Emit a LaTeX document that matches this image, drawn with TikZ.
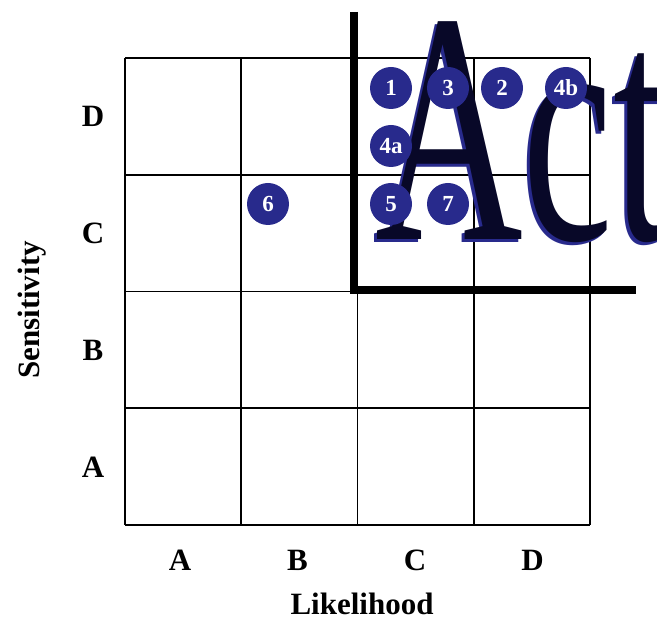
\documentclass[tikz,border=0pt]{standalone}
\usepackage{fontspec}
\setmainfont{Liberation Serif}
\usetikzlibrary{positioning}
\definecolor{riskblue}{RGB}{40,42,140}
\definecolor{actnavy}{RGB}{8,8,40}

\begin{document}
\begin{tikzpicture}[x=1pt, y=-1pt,
    risk/.style={circle, fill=riskblue, minimum size=42pt, inner sep=0pt, text=white, font=\fontsize{23}{23}\selectfont\bfseries},
    lbl/.style={font=\fontsize{31}{31}\selectfont\bfseries},
    cellline/.style={line width=1.8pt},
    bigline/.style={line width=8pt},
    acttext/.style={anchor=base west, xscale=0.62, inner sep=0pt, font=\fontsize{330}{330}\selectfont}
]
\useasboundingbox (0,0) rectangle (657,620);
\clip (0,0) rectangle (657,620);

% matrix cells
\foreach \i in {0,...,4} {
    \draw[cellline] (125+116.25*\i,58) -- (125+116.25*\i,525);
    \draw[cellline] (125,58+116.75*\i) -- (590,58+116.75*\i);
}

% action corner
\coordinate (ctop) at (354,12);
\coordinate (ccorner) at (354,290);
\coordinate (cright) at (636,290);
\draw[bigline] (ctop) -- (ccorner) -- (cright);

\node[acttext, text=riskblue] (actshadow) at (372,243) {Act};
\node[acttext, text=actnavy] (act) at (375,240) {Act};

% risks
\node[risk] (r1) at (391,88) {1};
\node[risk] (r3) at (448,88) {3};
\node[risk] (r2) at (502,88) {2};
\node[risk] (r4b) at (566,88) {4b};
\node[risk] (r4a) at (391,146) {4a};
\node[risk] (r5) at (391,204) {5};
\node[risk] (r7) at (448,204) {7};
\node[risk] (r6) at (268,204) {6};

% axes
\foreach \l [count=\i] in {D,C,B,A}
    \node[lbl] (row\l) at (93,116+117*\i-117) {\l};
\foreach \l [count=\i] in {A,B,C,D}
    \node[lbl] (col\l) at (180+117.5*\i-117.5,560) {\l};
\node[lbl] (likely) at (362,604) {Likelihood};
\node[lbl, rotate=90] (sens) at (32,310) {Sensitivity};
\end{tikzpicture}
\end{document}
